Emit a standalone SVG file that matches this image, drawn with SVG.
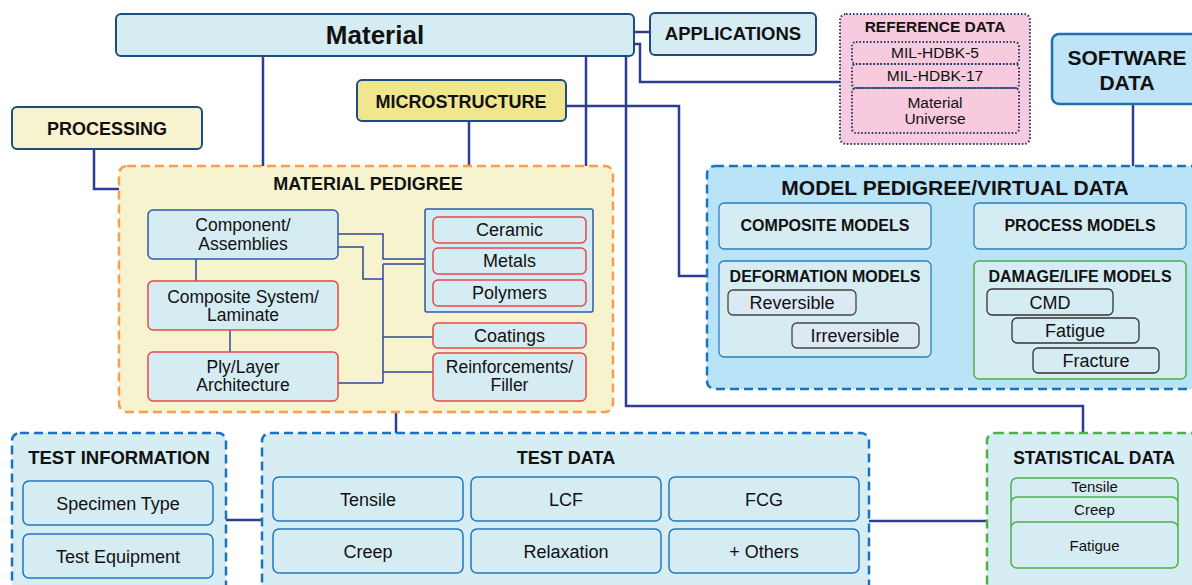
<svg xmlns="http://www.w3.org/2000/svg" width="1192" height="585" viewBox="0 0 1192 585">
<style>
text{font-family:"Liberation Sans",Arial,sans-serif;fill:#111;text-anchor:middle}
.b{font-weight:bold}
.conn{fill:none;stroke:#2d3d92;stroke-width:2.5}
.inner{fill:none;stroke:#2b4a9c;stroke-width:1.5}
.lb{fill:#d6ecf3;stroke:#1d4d7d;stroke-width:2}
.red{fill:#d6ecf3;stroke:#e5484d;stroke-width:1.5}
.blu{fill:#d6ecf3;stroke:#2b5ca8;stroke-width:1.5}
.tb{fill:#d6ecf3;stroke:#1f77c0;stroke-width:1.5}
.dot{fill:none;stroke:#1e3a6a;stroke-width:2;stroke-dasharray:1.5 2}
.gr{fill:#d6ecf3;stroke:#4cb04c;stroke-width:1.5}
.dk{fill:#d6ecf3;stroke:#333;stroke-width:1.3}
.lav{fill:#dde8f5;stroke:#444;stroke-width:1.3}
.dash{stroke-width:2.5;stroke-dasharray:9 5}
.t18{font-size:18px}
.t2{font-size:17.5px}
</style>
<g id="connectors">
<path class="conn" d="M634,32 H650"/>
<path class="conn" d="M634,44 H640 V82 H840"/>
<path class="conn" d="M263,56 V166"/>
<path class="conn" d="M586,56 V166"/>
<path class="conn" d="M626,56 V406 H1083 V433"/>
<path class="conn" d="M469,121 V166"/>
<path class="conn" d="M566,106 H679 V276 H719"/>
<path class="conn" d="M94,149 V189 H119"/>
<path class="conn" d="M1133,104 V166"/>
<path class="conn" d="M396,412 V433"/>
<path class="conn" d="M226,520 H262"/>
<path class="conn" d="M869,521 H987"/>
</g>
<g id="material"><rect class="lb" x="116" y="14" width="518" height="42" rx="5"/><text class="b" x="375" y="44" font-size="26">Material</text></g>
<g id="applications"><rect class="lb" x="650" y="13" width="166" height="42" rx="5"/><text class="b" x="733" y="40" font-size="18.5">APPLICATIONS</text></g>
<g id="reference-data">
<rect x="840" y="14" width="190" height="130" rx="6" fill="#f7cade"/>
<rect class="dot" x="840" y="14" width="190" height="130" rx="6"/>
<text class="b" x="935" y="32" font-size="15.5">REFERENCE DATA</text>
<rect class="dot" x="852" y="42" width="167" height="22" rx="4"/>
<rect class="dot" x="852" y="64" width="167" height="24" rx="4"/>
<rect class="dot" x="852" y="88" width="167" height="45" rx="4"/>
<text x="935" y="57.5" font-size="15.5">MIL-HDBK-5</text>
<text x="935" y="80.5" font-size="15.5">MIL-HDBK-17</text>
<text x="935" y="107.5" font-size="15.5">Material</text>
<text x="935" y="123.5" font-size="15.5">Universe</text>
</g>
<g id="software-data"><rect x="1052" y="34" width="160" height="70" rx="7" fill="#bfe4f7" stroke="#1f6fb2" stroke-width="2.5"/><text class="b" x="1127" y="64.5" font-size="21">SOFTWARE</text><text class="b" x="1127" y="89.5" font-size="21">DATA</text></g>
<g id="microstructure"><rect x="357" y="80" width="209" height="41" rx="5" fill="#efe68e" stroke="#1d4d7d" stroke-width="2"/><text class="b" x="461" y="107.5" font-size="18">MICROSTRUCTURE</text></g>
<g id="processing"><rect x="12" y="107" width="190" height="42" rx="5" fill="#f8f3cf" stroke="#1d4d7d" stroke-width="2"/><text class="b" x="107" y="134.5" font-size="18">PROCESSING</text></g>
<g id="material-pedigree">
<rect class="dash" x="119" y="166" width="494" height="246" rx="8" fill="#f8f3cf" stroke="#f6a04d"/>
<text class="b" x="368" y="189.5" font-size="18">MATERIAL PEDIGREE</text>
<g id="mp-links">
<path class="inner" d="M338,234 H383 V259 H433"/>
<path class="inner" d="M338,247 H363 V279 H383"/>
<path class="inner" d="M383,264 V383"/>
<path class="inner" d="M383,264 H433"/>
<path class="inner" d="M383,337 H433"/>
<path class="inner" d="M383,372 H433"/>
<path class="inner" d="M338,383 H383"/>
<path class="inner" d="M196,259 V281"/>
<path class="inner" d="M230,330 V352"/>
</g>
<g id="component"><rect class="blu" x="148" y="210" width="190" height="49" rx="5"/><text class="t2" x="243" y="231">Component/</text><text class="t2" x="243" y="249.5">Assemblies</text></g>
<g id="composite-system"><rect class="red" x="148" y="281" width="190" height="49" rx="5"/><text class="t2" x="243" y="302.5">Composite System/</text><text class="t2" x="243" y="321">Laminate</text></g>
<g id="ply-layer"><rect class="red" x="148" y="352" width="190" height="49" rx="5"/><text class="t2" x="243" y="372.5">Ply/Layer</text><text class="t2" x="243" y="391">Architecture</text></g>
<g id="materials-group"><rect x="425" y="209" width="168" height="103" rx="2" fill="#d6ecf3" stroke="#2b5ca8" stroke-width="1.5"/></g>
<g id="ceramic"><rect class="red" x="433" y="217" width="153" height="26" rx="5"/><text class="t18" x="509.5" y="236">Ceramic</text></g>
<g id="metals"><rect class="red" x="433" y="248" width="153" height="26" rx="5"/><text class="t18" x="509.5" y="267">Metals</text></g>
<g id="polymers"><rect class="red" x="433" y="280" width="153" height="26" rx="5"/><text class="t18" x="509.5" y="299">Polymers</text></g>
<g id="coatings"><rect class="red" x="433" y="323" width="153" height="25" rx="5"/><text class="t18" x="509.5" y="342">Coatings</text></g>
<g id="reinforcements"><rect class="red" x="433" y="353" width="153" height="48" rx="5"/><text class="t2" x="509.5" y="372.5">Reinforcements/</text><text class="t2" x="509.5" y="391">Filler</text></g>
</g>
<g id="model-pedigree">
<rect class="dash" x="707" y="166" width="500" height="223" rx="8" fill="#b9e3f7" stroke="#1a73c0"/>
<text class="b" x="955" y="194.5" font-size="21">MODEL PEDIGREE/VIRTUAL DATA</text>
<g id="composite-models"><rect x="719" y="203" width="212" height="46" rx="5" fill="#d6ecf3" stroke="#2a7fc1" stroke-width="1.3"/><text class="b" x="825" y="231" font-size="16">COMPOSITE MODELS</text></g>
<g id="process-models"><rect x="974" y="203" width="212" height="46" rx="5" fill="#d6ecf3" stroke="#2a7fc1" stroke-width="1.3"/><text class="b" x="1080" y="231" font-size="16">PROCESS MODELS</text></g>
<g id="deformation-models"><rect x="719" y="261" width="212" height="96" rx="5" fill="#d6ecf3" stroke="#2a7fc1" stroke-width="1.3"/><text class="b" x="825" y="282" font-size="16">DEFORMATION MODELS</text>
<rect class="lav" x="728" y="290" width="128" height="25" rx="5"/><text class="t18" x="792" y="308.5">Reversible</text>
<rect class="lav" x="792" y="323" width="127" height="25" rx="5"/><text class="t18" x="855" y="341.5">Irreversible</text></g>
<g id="damage-life-models"><rect class="gr" x="974" y="261" width="212" height="118" rx="5"/><text class="b" x="1080" y="282" font-size="16">DAMAGE/LIFE MODELS</text>
<rect class="dk" x="987" y="289" width="126" height="26" rx="5"/><text class="t18" x="1050" y="308.5">CMD</text>
<rect class="dk" x="1012" y="318" width="127" height="25" rx="5"/><text class="t18" x="1075" y="337">Fatigue</text>
<rect class="dk" x="1033" y="348" width="126" height="25" rx="5"/><text class="t18" x="1096" y="367">Fracture</text></g>
</g>
<g id="test-information">
<rect class="dash" x="12" y="433" width="214" height="170" rx="8" fill="#d6edf3" stroke="#1a73c0"/>
<text class="b" x="119" y="463.5" font-size="18.5">TEST INFORMATION</text>
<rect class="tb" x="23" y="481" width="190" height="44" rx="6"/><text class="t18" x="118" y="509.5">Specimen Type</text>
<rect class="tb" x="23" y="534" width="190" height="44" rx="6"/><text class="t18" x="118" y="562.5">Test Equipment</text>
</g>
<g id="test-data">
<rect class="dash" x="262" y="433" width="607" height="170" rx="8" fill="#d6edf3" stroke="#1a73c0"/>
<text class="b" x="566" y="463.5" font-size="18">TEST DATA</text>
<rect class="tb" x="273" y="477" width="190" height="44" rx="6"/><text class="t18" x="368" y="505.5">Tensile</text>
<rect class="tb" x="471" y="477" width="190" height="44" rx="6"/><text class="t18" x="566" y="505.5">LCF</text>
<rect class="tb" x="669" y="477" width="190" height="44" rx="6"/><text class="t18" x="764" y="505.5">FCG</text>
<rect class="tb" x="273" y="529" width="190" height="44" rx="6"/><text class="t18" x="368" y="557.5">Creep</text>
<rect class="tb" x="471" y="529" width="190" height="44" rx="6"/><text class="t18" x="566" y="557.5">Relaxation</text>
<rect class="tb" x="669" y="529" width="190" height="44" rx="6"/><text class="t18" x="764" y="557.5">+ Others</text>
</g>
<g id="statistical-data">
<rect class="dash" x="987" y="433" width="230" height="170" rx="8" fill="#d6edf3" stroke="#4cb04c"/>
<text class="b" x="1094" y="463.5" font-size="17.5">STATISTICAL DATA</text>
<rect class="gr" x="1011" y="478" width="167" height="28" rx="6"/><text x="1094.5" y="492" font-size="15">Tensile</text>
<rect class="gr" x="1011" y="497" width="167" height="34" rx="6"/><text x="1094.5" y="515" font-size="15">Creep</text>
<rect class="gr" x="1011" y="522" width="167" height="46" rx="6"/><text x="1094.5" y="551" font-size="15">Fatigue</text>
</g>
</svg>
